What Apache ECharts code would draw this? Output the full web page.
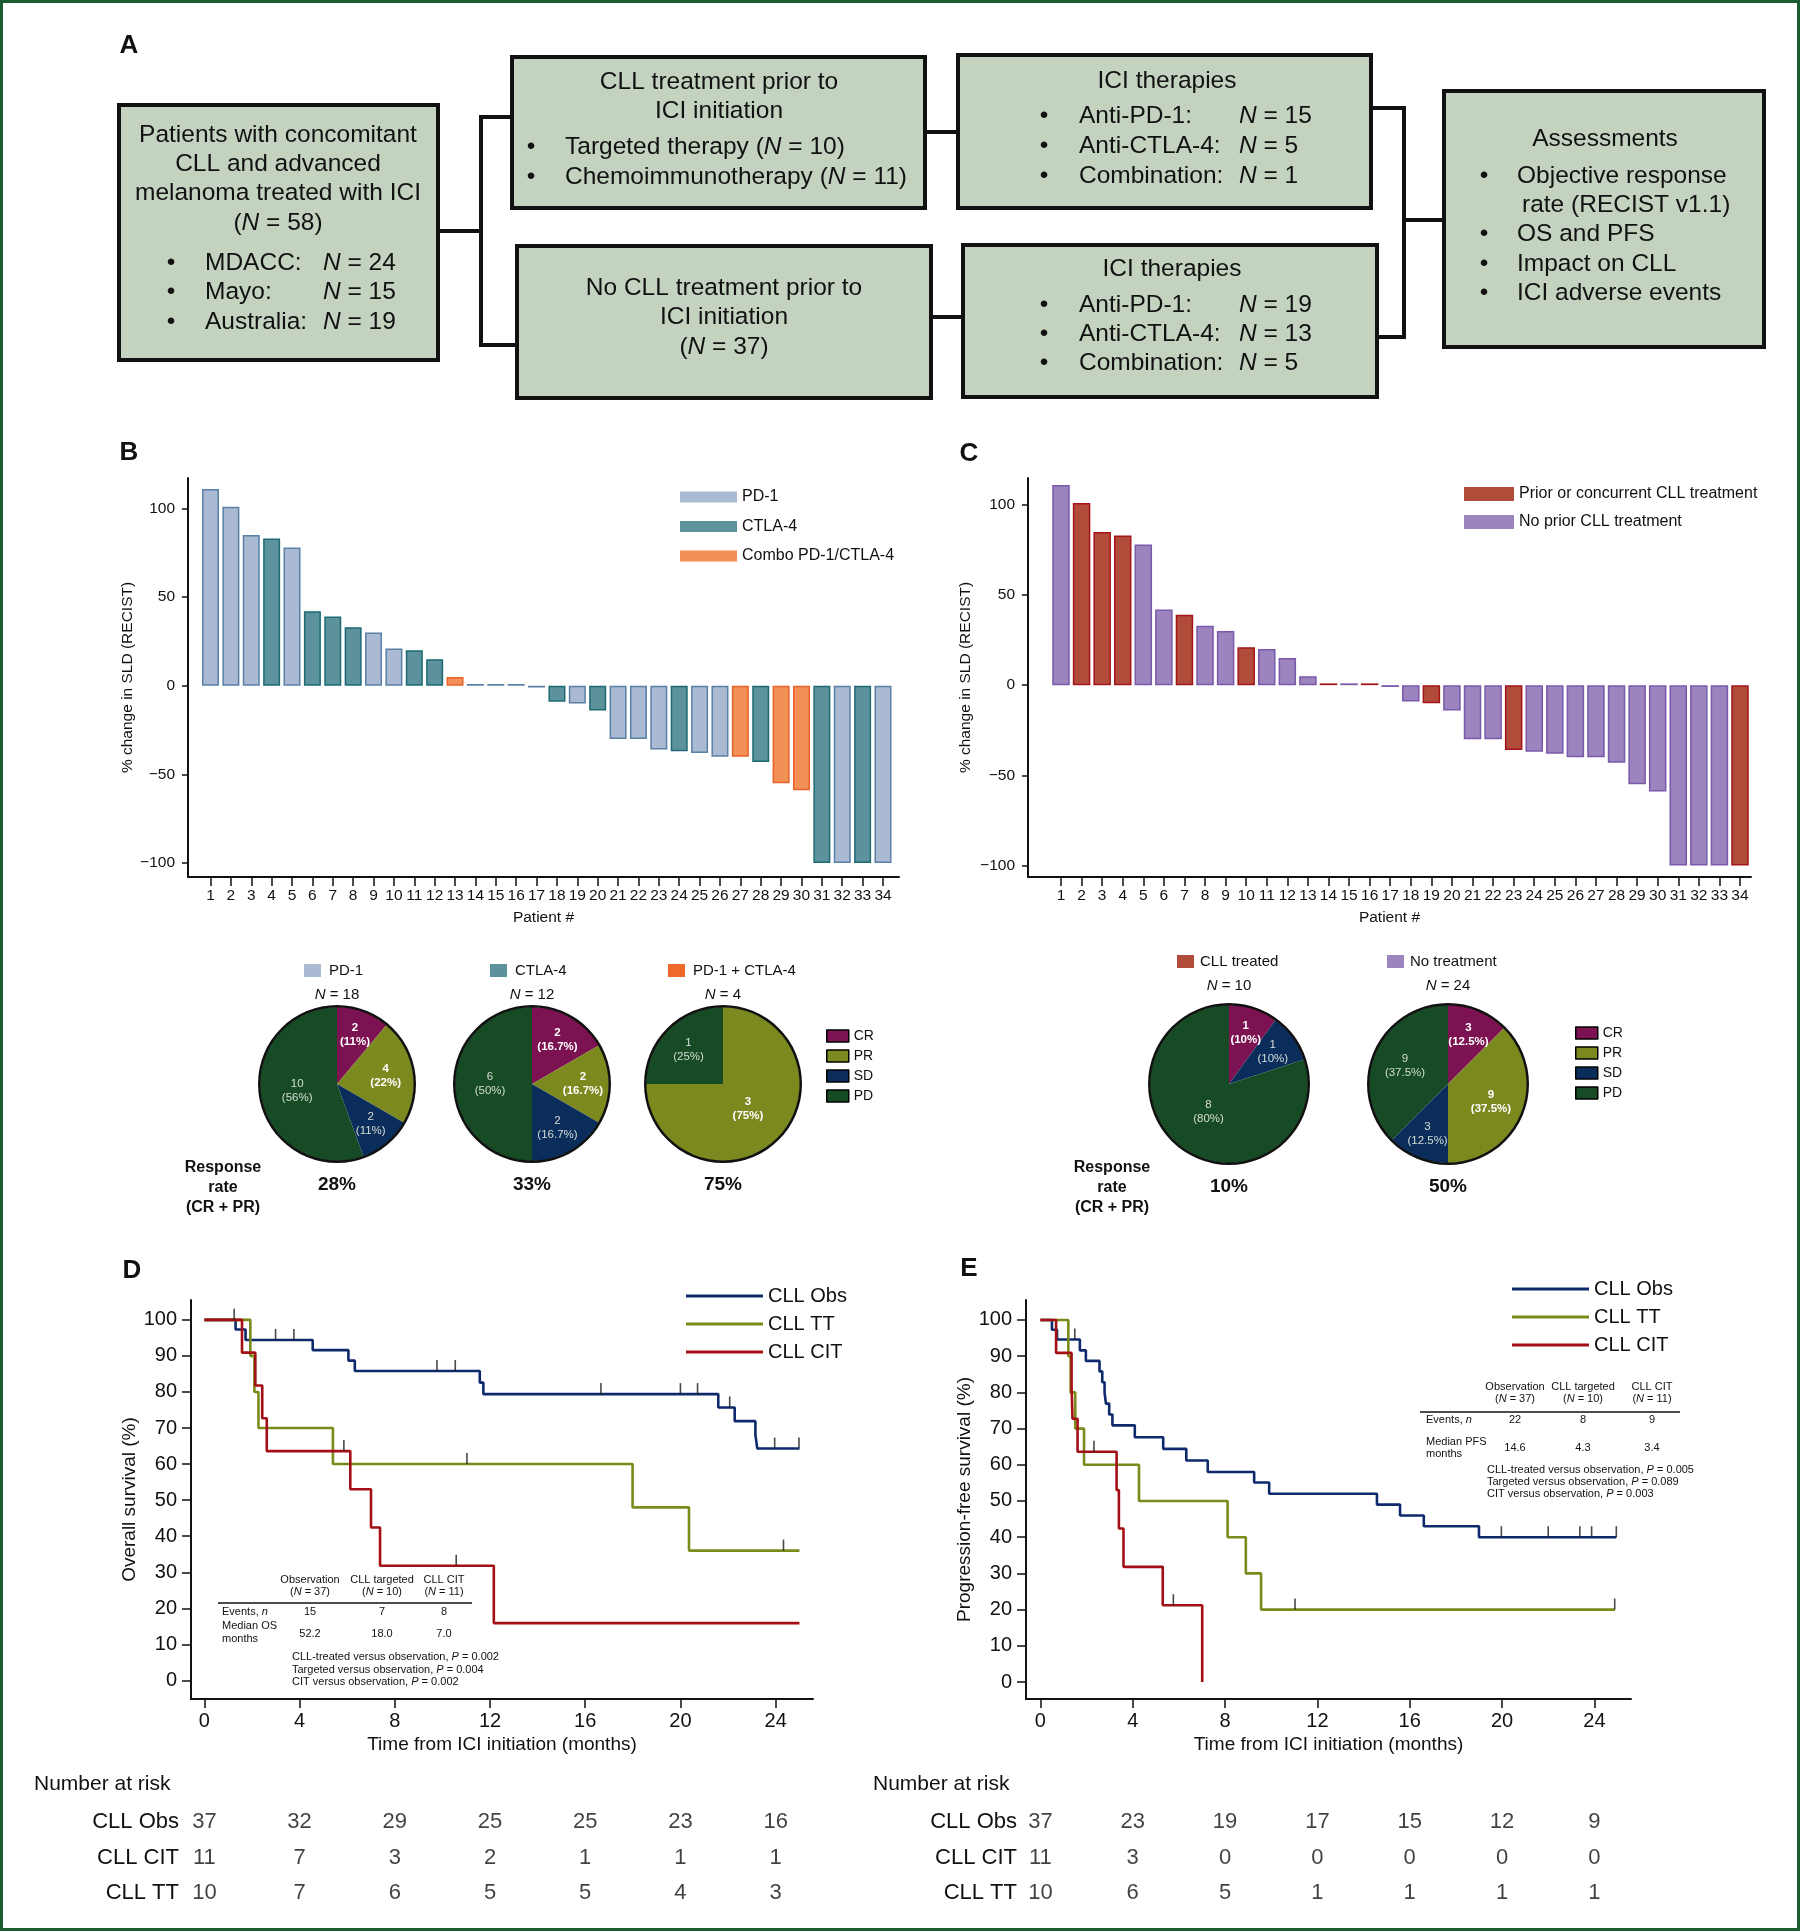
<!DOCTYPE html>
<html><head><meta charset="utf-8">
<script src="https://cdn.jsdelivr.net/npm/echarts@6/dist/echarts.min.js"></script>
<style>html,body{margin:0;padding:0;background:#fff}#c{width:1800px;height:1931px}</style>
</head><body><div id="c"></div>
<script>
const FONT = '"Liberation Sans", Arial, Helvetica, sans-serif';
const INK = '#111';

// ---------- Panels B / C : waterfall ----------
const patients = [1,2,3,4,5,6,7,8,9,10,11,12,13,14,15,16,17,18,19,20,21,22,23,24,25,26,27,28,29,30,31,32,33,34];
const sldChange = [111,101,85,83,78,42,39,33,30,21,20,15,5,1,1,1,-1,-9,-10,-14,-30,-30,-36,-37,-38,-40,-40,-43,-55,-59,-100,-100,-100,-100];
const iciType = ['PD-1','PD-1','PD-1','CTLA-4','PD-1','CTLA-4','CTLA-4','CTLA-4','PD-1','PD-1','CTLA-4','CTLA-4','Combo PD-1/CTLA-4','PD-1','PD-1','PD-1','PD-1','CTLA-4','PD-1','CTLA-4','PD-1','PD-1','PD-1','CTLA-4','PD-1','PD-1','Combo PD-1/CTLA-4','CTLA-4','Combo PD-1/CTLA-4','Combo PD-1/CTLA-4','CTLA-4','PD-1','CTLA-4','PD-1'];
const cllPrior = [0,1,1,1,0,0,1,0,0,1,0,0,0,1,0,1,0,0,1,0,0,0,1,0,0,0,0,0,0,0,0,0,0,1];
const iciGroups = ['PD-1','CTLA-4','Combo PD-1/CTLA-4'];
const cllGroups = ['Prior or concurrent CLL treatment','No prior CLL treatment'];
const sldTicks = [-100,-50,0,50,100];

// ---------- Pies ----------
const responseCats = ['CR','PR','SD','PD'];
const pieTitlesB = ['PD-1','CTLA-4','PD-1 + CTLA-4'];
const pieNB = [18,12,4];
const pieCountsB = [[2,4,2,10],[2,2,2,6],[0,3,0,1]];
const pieDigitsB = [0,1,0];
const responseRateB = ['28%','33%','75%'];
const pieTitlesC = ['CLL treated','No treatment'];
const pieNC = [10,24];
const pieCountsC = [[1,0,1,8],[3,9,3,9]];
const pieDigitsC = [0,1];
const responseRateC = ['10%','50%'];

// ---------- Panels D / E : Kaplan-Meier ----------
const kmGroups = ['CLL Obs','CLL TT','CLL CIT'];
const osObs = [[0,100],[1.31,97.3],[1.73,94.4],[4.55,91.6],[6.05,88.7],[6.32,85.8],[11.57,82.6],[11.72,79.4],[21.59,75.7],[22.28,71.9],[23.15,68.1],[23.23,64.3],[25.0,64.3]];
const osObsCens = [[1.25,100],[2.99,94.4],[3.76,94.4],[9.77,85.8],[10.54,85.8],[16.66,79.4],[20.0,79.4],[20.72,79.4],[22.07,75.7],[23.96,64.3],[24.98,64.3]];
const osTT = [[0,100],[1.93,90],[2.1,80],[2.27,70],[5.4,60],[17.99,48],[20.36,36],[25.0,36]];
const osTTCens = [[11.03,60],[24.33,36]];
const osCIT = [[0,100],[1.58,90.9],[2.14,81.8],[2.43,72.7],[2.62,63.6],[6.13,53.0],[7.0,42.4],[7.38,31.8],[12.16,15.9],[25.0,15.9]];
const osCITCens = [[5.86,63.6],[10.58,31.8]];
const pfsObs = [[0,100],[0.5,97.3],[0.72,94.6],[1.71,91.6],[1.97,88.7],[2.56,85.8],[2.68,82.8],[2.78,79.9],[2.84,76.9],[2.98,73.9],[3.12,70.9],[4.09,67.6],[5.32,64.4],[6.32,61.2],[7.25,58.0],[9.26,55.1],[9.91,52.0],[14.58,49.0],[15.58,46.0],[16.61,43.0],[19.0,40.0],[24.95,40.0]];
const pfsObsCens = [[1.49,94.6],[19.97,40],[22.0,40],[23.37,40],[23.88,40],[24.95,40]];
const pfsTT = [[0,100],[1.21,90],[1.31,80],[1.51,70],[1.89,60],[4.27,50],[8.11,40],[8.9,30],[9.56,20],[24.88,20]];
const pfsTTCens = [[11.03,20],[24.88,20]];
const pfsCIT = [[0,100],[0.68,90.9],[1.35,81.8],[1.39,72.7],[1.61,63.6],[3.3,53.0],[3.4,42.4],[3.6,31.8],[5.3,21.2],[7.01,0]];
const pfsCITCens = [[2.32,63.6],[5.76,21.2]];
const monthTicks = [0,4,8,12,16,20,24];
const survTicks = [0,10,20,30,40,50,60,70,80,90,100];
const riskRows = ['CLL Obs','CLL CIT','CLL TT'];
const osRisk = [[37,32,29,25,25,23,16],[11,7,3,2,1,1,1],[10,7,6,5,5,4,3]];
const pfsRisk = [[37,23,19,17,15,12,9],[11,3,0,0,0,0,0],[10,6,5,1,1,1,1]];
const tableCols = ['Observation','CLL targeted','CLL CIT'];
const tableN = [37,10,11];
const osEvents = ['15','7','8'];
const osMedian = ['52.2','18.0','7.0'];
const osP = ['0.002','0.004','0.002'];
const pfsEvents = ['22','8','9'];
const pfsMedian = ['14.6','4.3','3.4'];
const pfsP = ['0.005','0.089','0.003'];
const pComparisons = ['CLL-treated versus observation','Targeted versus observation','CIT versus observation'];

// ---------- styles ----------
const iciStyle = {
  'PD-1': {color:'#a9bad2', borderColor:'#5a80a6'},
  'CTLA-4': {color:'#5b929b', borderColor:'#1d6a75'},
  'Combo PD-1/CTLA-4': {color:'#f29056', borderColor:'#e8622a'}
};
const cllStyle = [
  {color:'#b24c3a', borderColor:'#a3151a'},
  {color:'#9c84be', borderColor:'#7a58aa'}
];
const respColors = ['#7c1251','#7c891f','#0b2d5c','#174b26'];
const kmColors = {'CLL Obs':'#0e2a6c','CLL TT':'#7b8a1b','CLL CIT':'#a30f14'};

const chart = echarts.init(document.getElementById('c'), null, {renderer:'canvas'});

function minusFmt(v){ return v < 0 ? '\u2212' + Math.abs(v) : String(v); }

// ----- grids & axes -----
const grid = [
  {left:188, top:478, width:711, height:399},   // B
  {left:1028, top:478, width:723, height:399},  // C
  {left:191, top:1300, width:622, height:399},  // D
  {left:1026, top:1300, width:605, height:399}, // E
  {left:191, top:1804, width:622, height:107},  // D risk
  {left:1026, top:1804, width:605, height:107}  // E risk
];
const axLine = {show:true, onZero:false, lineStyle:{color:INK, width:2}};
function wfX(gi, min, max){
  return {type:'value', gridIndex:gi, min, max, splitLine:{show:false},
    axisLine:axLine,
    axisTick:{show:true, length:9, lineStyle:{color:INK, width:1.5}, customValues:patients},
    axisLabel:{customValues:patients, fontSize:15.5, fontFamily:FONT, color:INK, margin:11},
    name:'Patient #', nameLocation:'middle', nameGap:33, nameTextStyle:{fontSize:15.5, fontFamily:FONT, color:INK}};
}
function wfY(gi, min, max, gap){
  return {type:'value', gridIndex:gi, min, max, splitLine:{show:false},
    axisLine:axLine,
    axisTick:{show:true, length:6, lineStyle:{color:INK, width:1.5}, customValues:sldTicks},
    axisLabel:{customValues:sldTicks, formatter:minusFmt, fontSize:15.5, fontFamily:FONT, color:INK, margin:13},
    name:'% change in SLD (RECIST)', nameLocation:'middle', nameRotate:90, nameGap:gap,
    nameTextStyle:{fontSize:15.5, fontFamily:FONT, color:INK}};
}
function kmX(gi, min, max){
  return {type:'value', gridIndex:gi, min, max, splitLine:{show:false},
    axisLine:axLine,
    axisTick:{show:true, length:9, lineStyle:{color:INK, width:1.5}, customValues:monthTicks},
    axisLabel:{customValues:monthTicks, fontSize:20, fontFamily:FONT, color:INK, margin:12},
    name:'Time from ICI initiation (months)', nameLocation:'middle', nameGap:36,
    nameTextStyle:{fontSize:19, fontFamily:FONT, color:INK}};
}
function kmY(gi, min, max, name){
  return {type:'value', gridIndex:gi, min, max, splitLine:{show:false},
    axisLine:axLine,
    axisTick:{show:true, length:9, lineStyle:{color:INK, width:1.5}, customValues:survTicks},
    axisLabel:{customValues:survTicks, fontSize:20, fontFamily:FONT, color:INK, margin:14},
    name, nameLocation:'middle', nameRotate:90, nameGap:52,
    nameTextStyle:{fontSize:19, fontFamily:FONT, color:INK}};
}
const xAxis = [
  wfX(0, -0.104, 34.785),
  wfX(1, -0.604, 34.535),
  kmX(2, -0.563, 25.57),
  kmX(3, -0.624, 25.586),
  {type:'value', gridIndex:4, min:-0.563, max:25.57, show:false},
  {type:'value', gridIndex:5, min:-0.624, max:25.586, show:false}
];
function riskY(gi, margin){
  return {type:'category', gridIndex:gi, data:riskRows, inverse:true,
    axisLine:{show:false}, axisTick:{show:false}, splitLine:{show:false},
    axisLabel:{fontSize:22, fontFamily:FONT, color:INK, margin}};
}
const yAxis = [
  wfY(0, -107.9, 117.2, 52),
  wfY(1, -106.4, 114.9, 54),
  kmY(2, -5.15, 105.5, 'Overall survival (%)'),
  kmY(3, -4.7, 105.52, 'Progression-free survival (%)'),
  riskY(4, 12),
  riskY(5, 9)
];

// ----- series -----
const series = [];
iciGroups.forEach(g => {
  series.push({type:'bar', name:g, xAxisIndex:0, yAxisIndex:0, barWidth:17, barGap:'-100%',
    data: patients.map((p,i)=> iciType[i]===g ? [p, sldChange[i]] : null).filter(d=>d),
    itemStyle:{color:iciStyle[g].color, borderColor:iciStyle[g].borderColor, borderWidth:1.5},
    silent:true});
});
cllGroups.forEach((g,k) => {
  const flag = k===0 ? 1 : 0;
  series.push({type:'bar', name:g, xAxisIndex:1, yAxisIndex:1, barWidth:17.5, barGap:'-100%',
    data: patients.map((p,i)=> cllPrior[i]===flag ? [p, sldChange[i]] : null).filter(d=>d),
    itemStyle:{color:cllStyle[k].color, borderColor:cllStyle[k].borderColor, borderWidth:1.5},
    silent:true});
});

function fmtPct(v, n, d){
  const p = v/n*100;
  let s = d ? p.toFixed(d) : String(Math.round(p));
  s = s.replace(/\.0+$/,'');
  return s + '%';
}
const pieLabelPos = {};
function addPie(center, r, counts, n, digits){
  // label anchors along each slice's mid-angle; small slices get labels further out
  const total = counts.reduce((a,b)=>a+b,0);
  let acc = 0;
  const pos = counts.map(v=>{
    const frac = v/total;
    const mid = (acc + v/2)/total*2*Math.PI; acc += v;
    const k = 0.72 - 0.35*frac;
    return [center[0] + k*r*Math.sin(mid), center[1] - k*r*Math.cos(mid)];
  });
  pieLabelPos[series.length] = pos;
  series.push({type:'pie', center, radius:[0, r], startAngle:90, clockwise:true, silent:true,
    avoidLabelOverlap:false, color:respColors, itemStyle:{borderWidth:0},
    labelLine:{show:false}, minShowLabelAngle:0,
    label:{show:true, position:'inside', fontFamily:FONT, fontSize:11.5, lineHeight:14,
      formatter: p => p.value ? p.value + '\n(' + fmtPct(p.value, n, digits) + ')' : ''},
    labelLayout: p => {
      const pp = pieLabelPos[p.seriesIndex] && pieLabelPos[p.seriesIndex][p.dataIndex];
      return pp ? {x:pp[0], y:pp[1], align:'center', verticalAlign:'middle', hideOverlap:false} : {};
    },
    data: responseCats.map((c,k)=>({name:c, value:counts[k],
      label:{show: counts[k] > 0, fontWeight: k<2 ? 'bold':'normal', color: k<2 ? '#ffffff' : '#d5ded5'}}))
  });
  series.push({type:'pie', center, radius:[r-0.5, r+2], silent:true, label:{show:false},
    labelLine:{show:false}, itemStyle:{color:'#111'}, data:[{name:'outline', value:1}]});
}
const pieCentersB = [[337,1084],[532,1084],[723,1084]];
pieCountsB.forEach((c,i)=>addPie(pieCentersB[i], 77, c, pieNB[i], pieDigitsB[i]));
const pieCentersC = [[1229,1084],[1448,1084]];
pieCountsC.forEach((c,i)=>addPie(pieCentersC[i], 79, c, pieNC[i], pieDigitsC[i]));

function addKM(gi, name, data, cens){
  series.push({type:'line', name, xAxisIndex:gi, yAxisIndex:gi, step:'end', data,
    symbol:'none', silent:true, lineStyle:{color:kmColors[name], width:2.6},
    itemStyle:{color:kmColors[name]}, z:3});
  series.push({type:'scatter', name:name+' censored', xAxisIndex:gi, yAxisIndex:gi, data:cens,
    symbol:'rect', symbolSize:[1.6,11], symbolOffset:[0,-5.5], silent:true,
    itemStyle:{color:'#1a1a1a'}, z:4});
}
addKM(2,'CLL Obs',osObs,osObsCens);
addKM(2,'CLL TT',osTT,osTTCens);
addKM(2,'CLL CIT',osCIT,osCITCens);
addKM(3,'CLL Obs',pfsObs,pfsObsCens);
addKM(3,'CLL TT',pfsTT,pfsTTCens);
addKM(3,'CLL CIT',pfsCIT,pfsCITCens);

function addRisk(gi, table){
  const data = [];
  table.forEach((row,r)=>row.forEach((v,i)=>data.push([monthTicks[i], riskRows[r], v])));
  series.push({type:'scatter', xAxisIndex:gi, yAxisIndex:gi, data, symbolSize:1,
    itemStyle:{color:'rgba(0,0,0,0)'}, silent:true,
    label:{show:true, position:'inside', formatter:p=>String(p.value[2]),
      fontSize:22, fontFamily:FONT, color:INK}});
}
addRisk(4, osRisk);
addRisk(5, pfsRisk);

// ----- legends -----
const legend = [
  {data:iciGroups, orient:'vertical', left:675, top:484, itemWidth:57, itemHeight:11, itemGap:13.5,
    icon:'rect', itemStyle:{borderWidth:0}, textStyle:{fontSize:16, fontFamily:FONT, color:INK}, selectedMode:false},
  {data:cllGroups, orient:'vertical', left:1459, top:481, itemWidth:50, itemHeight:14, itemGap:12,
    icon:'rect', itemStyle:{borderWidth:0}, textStyle:{fontSize:16, fontFamily:FONT, color:INK}, selectedMode:false},
  {data:responseCats, orient:'vertical', left:821, top:1024, itemWidth:22, itemHeight:12, itemGap:6,
    icon:'rect', itemStyle:{borderColor:'#000', borderWidth:1.5},
    textStyle:{fontSize:14, fontFamily:FONT, color:INK}, selectedMode:false},
  {data:responseCats, orient:'vertical', left:1570, top:1021, itemWidth:22, itemHeight:12, itemGap:6,
    icon:'rect', itemStyle:{borderColor:'#000', borderWidth:1.5},
    textStyle:{fontSize:14, fontFamily:FONT, color:INK}, selectedMode:false},
  {data:kmGroups, orient:'vertical', left:681, top:1281, itemWidth:77, itemHeight:3, itemGap:8,
    icon:'rect', textStyle:{fontSize:20, fontFamily:FONT, color:INK}, selectedMode:false},
  {data:kmGroups, orient:'vertical', left:1507, top:1274, itemWidth:77, itemHeight:3, itemGap:8,
    icon:'rect', textStyle:{fontSize:20, fontFamily:FONT, color:INK}, selectedMode:false}
];

// ----- graphics (flowchart, headers, tables) -----
const G = [];
const RICH = (size, bold) => ({i:{fontStyle:'italic', fontSize:size, fontFamily:FONT, fontWeight:bold?'bold':'normal', fill:INK}});
function T(x, y, text, size, opt){
  opt = opt || {};
  G.push({type:'text', x, y, silent:true, z:10, style:{text, fontSize:size, fontFamily:FONT,
    fill:opt.fill||INK, align:opt.align||'left', verticalAlign:'middle',
    fontWeight:opt.bold?'bold':'normal', rich:RICH(size, opt.bold)}});
}
function R(x, y, w, h, fill, stroke, lw){
  G.push({type:'rect', silent:true, z:5, shape:{x, y, width:w, height:h},
    style:{fill, stroke:stroke||null, lineWidth:lw||0}});
}
function L(points, lw){
  G.push({type:'polyline', silent:true, z:5, shape:{points}, style:{stroke:INK, lineWidth:lw||4, fill:null}});
}
// outer frame
G.push({type:'rect', silent:true, z:1, shape:{x:1.5, y:1.5, width:1797, height:1928},
  style:{fill:null, stroke:'#1c5b2e', lineWidth:3}});

// panel letters
[['A',129,46],['B',129,453],['C',969,454],['D',132,1271],['E',969,1269]].forEach(a=>T(a[1],a[2],a[0],26,{bold:true,align:'center'}));

// Panel A
const BOX = '#c4d3bf', FS = 24.5;
L([[438,231],[481,231]]); L([[512,117],[481,117],[481,345],[517,345]]);
L([[925,132],[958,132]]); L([[931,317],[963,317]]);
L([[1372,108],[1404,108],[1404,337],[1377,337]]); L([[1404,220],[1444,220]]);
R(119,105,319,255,BOX,INK,4);
R(512,57,413,151,BOX,INK,4);
R(517,246,414,152,BOX,INK,4);
R(958,55,413,153,BOX,INK,4);
R(963,245,414,152,BOX,INK,4);
R(1444,91,320,256,BOX,INK,4);
T(278,135,'Patients with concomitant',FS,{align:'center'});
T(278,164,'CLL and advanced',FS,{align:'center'});
T(278,193,'melanoma treated with ICI',FS,{align:'center'});
T(278,223,'({i|N} = 58)',FS,{align:'center'});
[['MDACC:','24',263],['Mayo:','15',292],['Australia:','19',322]].forEach(r=>{
  T(171,r[2],'\u2022',FS,{align:'center'}); T(205,r[2],r[0],FS); T(323,r[2],'{i|N} = '+r[1],FS);
});
T(719,82,'CLL treatment prior to',FS,{align:'center'});
T(719,111,'ICI initiation',FS,{align:'center'});
T(531,147,'\u2022',FS,{align:'center'}); T(565,147,'Targeted therapy ({i|N} = 10)',FS);
T(531,177,'\u2022',FS,{align:'center'}); T(565,177,'Chemoimmunotherapy ({i|N} = 11)',FS);
T(724,288,'No CLL treatment prior to',FS,{align:'center'});
T(724,317,'ICI initiation',FS,{align:'center'});
T(724,347,'({i|N} = 37)',FS,{align:'center'});
T(1167,81,'ICI therapies',FS,{align:'center'});
[['Anti-PD-1:','15',116],['Anti-CTLA-4:','5',146],['Combination:','1',176]].forEach(r=>{
  T(1044,r[2],'\u2022',FS,{align:'center'}); T(1079,r[2],r[0],FS); T(1239,r[2],'{i|N} = '+r[1],FS);
});
T(1172,269,'ICI therapies',FS,{align:'center'});
[['Anti-PD-1:','19',305],['Anti-CTLA-4:','13',334],['Combination:','5',363]].forEach(r=>{
  T(1044,r[2],'\u2022',FS,{align:'center'}); T(1079,r[2],r[0],FS); T(1239,r[2],'{i|N} = '+r[1],FS);
});
T(1605,139,'Assessments',FS,{align:'center'});
T(1484,176,'\u2022',FS,{align:'center'}); T(1517,176,'Objective response',FS);
T(1522,205,'rate (RECIST v1.1)',FS);
T(1484,234,'\u2022',FS,{align:'center'}); T(1517,234,'OS and PFS',FS);
T(1484,264,'\u2022',FS,{align:'center'}); T(1517,264,'Impact on CLL',FS);
T(1484,293,'\u2022',FS,{align:'center'}); T(1517,293,'ICI adverse events',FS);

// Pie headers B
const swB = ['#a9bad2','#5b929b','#ee6a2a'];
const swBx = [304,490,668];
pieTitlesB.forEach((t,i)=>{
  R(swBx[i],964,17,13,swB[i]);
  T(swBx[i]+25,970.5,t,15);
  T(pieCentersB[i][0],995,'{i|N} = '+pieNB[i],15,{align:'center'});
  T(pieCentersB[i][0],1185,responseRateB[i],19,{bold:true,align:'center'});
});
const swC = ['#b24c3a','#9c84be'];
const swCx = [1177,1387];
pieTitlesC.forEach((t,i)=>{
  R(swCx[i],955,17,13,swC[i]);
  T(swCx[i]+23,961.5,t,15);
  T(pieCentersC[i][0],986,'{i|N} = '+pieNC[i],15,{align:'center'});
  T(pieCentersC[i][0],1187,responseRateC[i],19,{bold:true,align:'center'});
});
[223,1112].forEach(x=>{
  T(x,1167.5,'Response',16,{bold:true,align:'center'});
  T(x,1187.5,'rate',16,{bold:true,align:'center'});
  T(x,1208,'(CR + PR)',16,{bold:true,align:'center'});
});

// KM tables
function kmTable(colX, lineX0, lineX1, yH1, yH2, yLine, yEv, yMed1, yMed2, yMedV, medLabel, events, medians, pX, pY, pVals, leftX){
  tableCols.forEach((c,i)=>{
    T(colX[i],yH1,c,11,{align:'center'});
    T(colX[i],yH2,'({i|N} = '+tableN[i]+')',11,{align:'center'});
    T(colX[i],yEv,events[i],11,{align:'center'});
    T(colX[i],yMedV,medians[i],11,{align:'center'});
  });
  L([[lineX0,yLine],[lineX1,yLine]],1.6);
  T(leftX,yEv,'Events, {i|n}',11);
  T(leftX,yMed1,medLabel,11);
  T(leftX,yMed2,'months',11);
  pComparisons.forEach((c,i)=>T(pX,pY[i],c+', {i|P} = '+pVals[i],11));
}
kmTable([310,382,444],218,472,1580,1592,1603,1612,1626,1639,1634,'Median OS',osEvents,osMedian,292,[1657,1670,1682],osP,222);
kmTable([1515,1583,1652],1420,1680,1387,1399,1412,1420,1442,1454,1448,'Median PFS',pfsEvents,pfsMedian,1487,[1470,1482,1494],pfsP,1426);

T(34,1784,'Number at risk',21);
T(873,1784,'Number at risk',21);

chart.setOption({
  animation:false,
  backgroundColor:'#ffffff',
  textStyle:{fontFamily:FONT},
  grid, xAxis, yAxis, series, legend,
  graphic: G
});
</script></body></html>
